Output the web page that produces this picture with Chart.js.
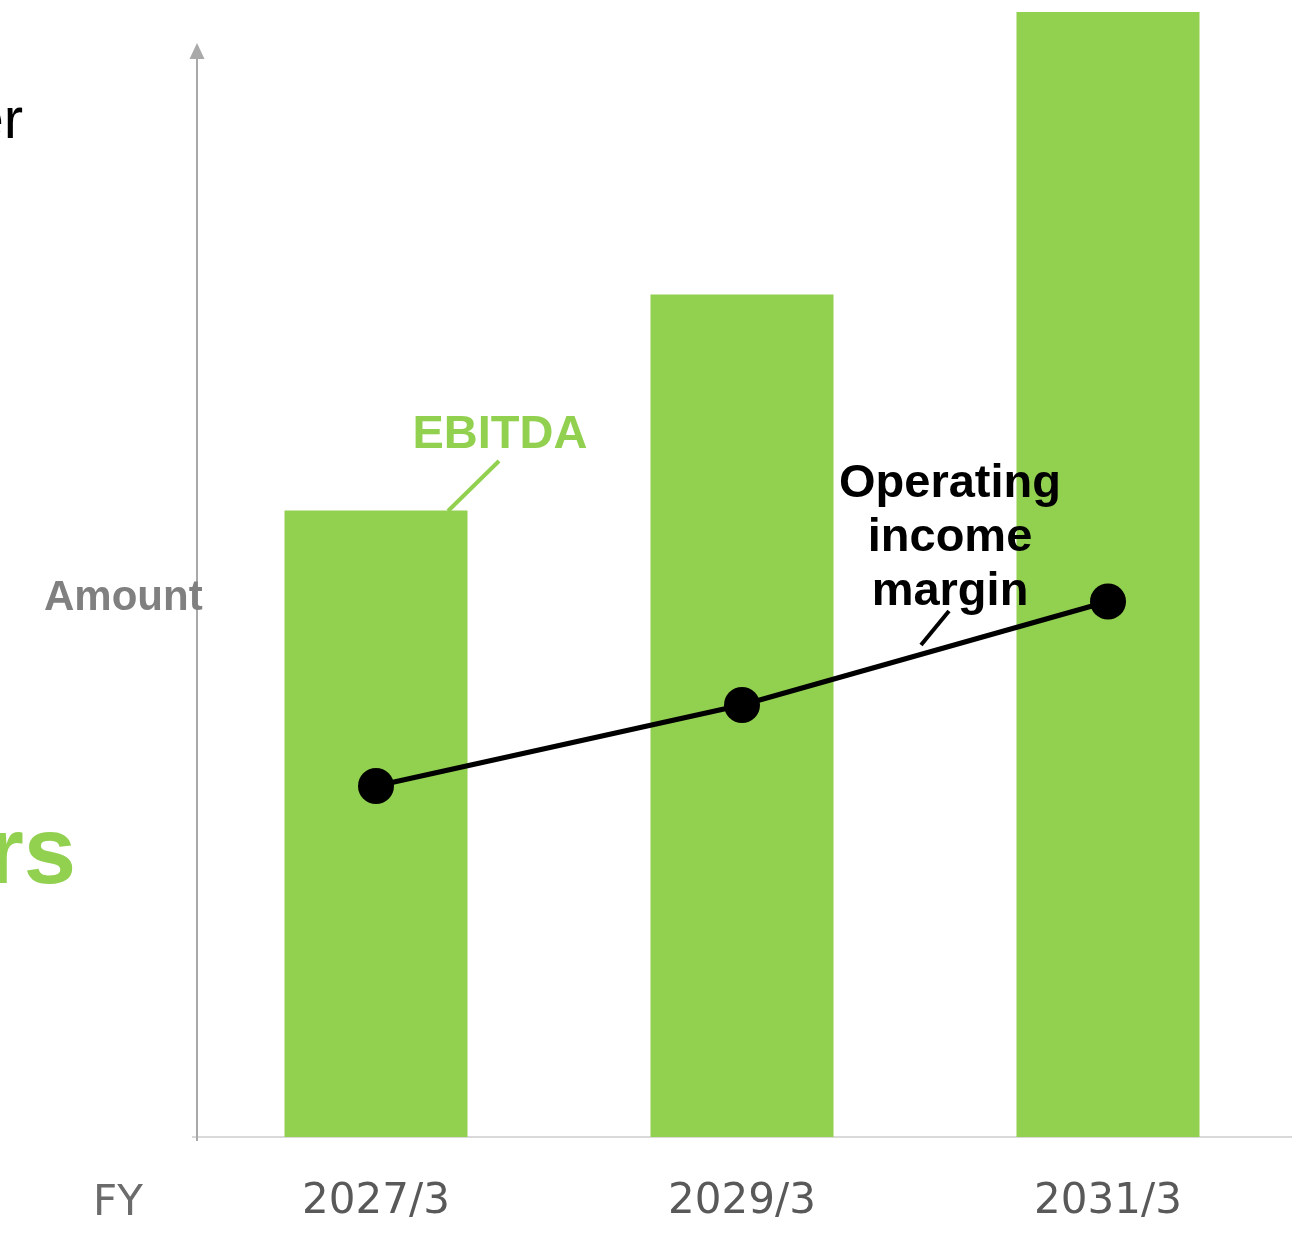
<!DOCTYPE html>
<html>
<head>
<meta charset="utf-8">
<script src="https://cdn.jsdelivr.net/npm/chart.js@4/dist/chart.umd.min.js"></script>
<style>
  html, body { margin: 0; padding: 0; background: #ffffff; }
  #wrap { position: relative; width: 1308px; height: 1233px; overflow: hidden; }
  canvas { position: absolute; left: 0; top: 0; }
  .t { position: absolute; white-space: nowrap; line-height: 1; }
</style>
</head>
<body>
<div id="wrap">
  <canvas id="c" width="1308" height="1233"></canvas>
  <div class="t" style="right:1285px; top:84px; font:58px 'Liberation Sans', Arial, sans-serif; color:#000;">er</div>
  <div class="t" style="right:1232px; top:797px; font:bold 94px 'Liberation Sans', Arial, sans-serif; color:#92D050;">rs</div>
  <div class="t" style="left:44px; top:572px; font:bold 42px 'Liberation Sans', Arial, sans-serif; color:#808080;">Amount</div>
  <div class="t" style="left:93px; top:1176px; font:42px 'DejaVu Sans', Verdana, sans-serif; color:#6b6b6b;">FY</div>
  <div class="t" style="left:400px; width:200px; text-align:center; top:404px; line-height:54px; font:bold 47px 'Liberation Sans', Arial, sans-serif; color:#92D050;">EBITDA</div>
  <div class="t" style="left:800px; width:300px; text-align:center; top:454px; line-height:54px; font-family:'Liberation Sans', Arial, sans-serif; font-weight:bold; font-size:47px; color:#000;">Operating<br>income<br>margin</div>
</div>
<script>
const categories = ['2027/3', '2029/3', '2031/3'];
const ebitda = [55.7, 74.9, 100];
const operatingMargin = [31.2, 38.4, 47.6];

const decor = {
  id: 'decor',
  afterDatasetsDraw(chart) {
    const ctx = chart.ctx;
    ctx.save();
    // vertical axis with arrow
    ctx.strokeStyle = '#a9a9a9';
    ctx.fillStyle = '#a9a9a9';
    ctx.lineWidth = 2;
    ctx.beginPath();
    ctx.moveTo(197, 1141);
    ctx.lineTo(197, 56);
    ctx.stroke();
    ctx.beginPath();
    ctx.moveTo(197, 43);
    ctx.lineTo(204.5, 59);
    ctx.lineTo(189.5, 59);
    ctx.closePath();
    ctx.fill();
    // leader lines
    ctx.lineCap = 'butt';
    ctx.lineWidth = 4;
    ctx.strokeStyle = '#92D050';
    ctx.beginPath();
    ctx.moveTo(499, 461);
    ctx.lineTo(448, 511);
    ctx.stroke();
    ctx.strokeStyle = '#000';
    ctx.beginPath();
    ctx.moveTo(949, 611);
    ctx.lineTo(921, 645);
    ctx.stroke();
    ctx.restore();
  }
};

new Chart(document.getElementById('c'), {
  data: {
    labels: categories,
    datasets: [
      {
        type: 'line',
        label: 'Operating income margin',
        data: operatingMargin,
        borderColor: '#000',
        backgroundColor: '#000',
        borderWidth: 5,
        pointRadius: 18,
        pointBackgroundColor: '#000',
        pointBorderWidth: 0,
        order: 0
      },
      {
        type: 'bar',
        label: 'EBITDA',
        data: ebitda,
        backgroundColor: '#92D050',
        borderWidth: 0,
        barPercentage: 0.5,
        categoryPercentage: 1.0,
        order: 1
      }
    ]
  },
  options: {
    responsive: false,
    animation: false,
    layout: { autoPadding: false, padding: { left: 193, right: 17, top: 12, bottom: 0 } },
    plugins: { legend: { display: false }, tooltip: { enabled: false } },
    scales: {
      x: {
        offset: true,
        grid: { display: false, drawTicks: false },
        border: { display: true, color: '#d9d9d9', width: 2 },
        ticks: { color: '#595959', font: { family: "'DejaVu Sans', Verdana, sans-serif", size: 42 }, padding: 40 },
        afterFit(scale) { scale.height = 96; }
      },
      y: {
        display: false,
        min: 0,
        max: 100
      }
    }
  },
  plugins: [decor]
});
</script>
</body>
</html>
